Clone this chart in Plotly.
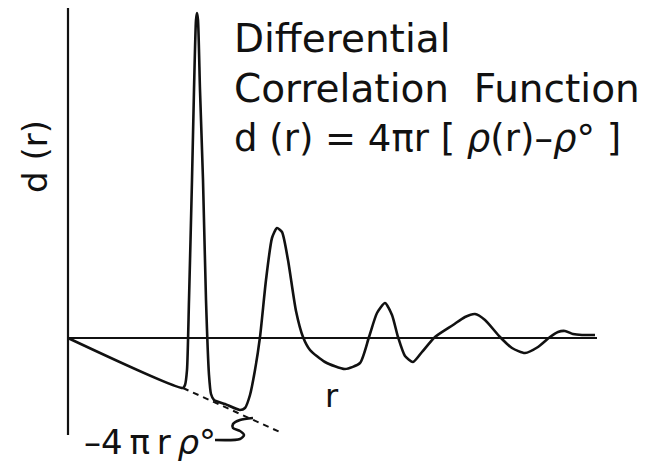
import plotly.graph_objects as go

# Curve d(r), arbitrary units
r_vals = [0.00, 2.30, 2.34, 2.38, 2.42, 2.48, 2.52, 2.56, 2.58, 2.60, 2.64, 2.70,
          2.76, 2.82, 2.86, 2.92, 3.14, 3.44, 3.54, 3.64, 3.74, 3.84, 3.96, 4.08,
          4.18, 4.28, 4.40, 4.56, 4.70, 4.84, 5.14, 5.54, 5.84, 6.02, 6.18, 6.34,
          6.48, 6.60, 6.74, 6.90, 7.08, 7.34, 7.70, 7.94, 8.14, 8.34, 8.64, 8.88,
          9.14, 9.40, 9.64, 9.80, 9.94, 10.10, 10.28, 10.54]
d_vals = [0.00, -2.00, -1.88, -1.28, 1.52, 6.32, 9.92, 12.72, 13.00, 12.72, 9.92, 6.32,
          1.52, -1.48, -2.24, -2.48, -2.64, -2.88, -2.80, -2.28, -1.28, 0.04, 2.32, 4.00,
          4.40, 4.24, 3.12, 1.08, 0.04, -0.48, -0.96, -1.24, -1.00, 0.04, 1.00, 1.40,
          0.92, 0.04, -0.72, -0.96, -0.56, 0.04, 0.52, 0.84, 0.96, 0.72, 0.04, -0.40,
          -0.60, -0.36, 0.04, 0.24, 0.28, 0.16, 0.12, 0.12]

# -4 pi r rho0 asymptote (dashed continuation)
dash_r = [2.30, 4.28]
dash_d = [-2.00, -3.80]

# axes of the sketch
xaxis_r = [0.0, 10.58]
xaxis_d = [0.0, 0.0]
yaxis_r = [0.0, 0.0]
yaxis_d = [13.4, -3.88]

# leader squiggle next to the -4πrρ° label
sq_r = [3.70, 3.44, 3.30, 3.30, 3.44, 3.52, 3.44, 2.94]
sq_d = [-3.20, -3.28, -3.44, -3.60, -3.72, -3.88, -4.04, -4.08]

fig = go.Figure()
line_col = "#111111"
fig.add_trace(go.Scatter(x=xaxis_r, y=xaxis_d, mode="lines",
                         line=dict(color=line_col, width=2)))
fig.add_trace(go.Scatter(x=yaxis_r, y=yaxis_d, mode="lines",
                         line=dict(color=line_col, width=2.2)))
fig.add_trace(go.Scatter(x=dash_r, y=dash_d, mode="lines",
                         line=dict(color=line_col, width=2, dash="6px,5px")))
fig.add_trace(go.Scatter(x=r_vals, y=d_vals, mode="lines",
                         line=dict(color=line_col, width=2.6, shape="spline", smoothing=0.6)))
fig.add_trace(go.Scatter(x=sq_r, y=sq_d, mode="lines",
                         line=dict(color=line_col, width=2.6, shape="spline", smoothing=0.8)))

font_family = "DejaVu Sans"
ann = [
    dict(x=3.28, y=12.0, text="Differential", xanchor="left", yanchor="middle", size=39),
    dict(x=3.28, y=10.0, text="Correlation  Function", xanchor="left", yanchor="middle", size=39),
    dict(x=3.28, y=8.0, text="d (r) = 4πr [ <i>ρ</i>(r)–<i>ρ</i>° ]", xanchor="left", yanchor="middle", size=37),
    dict(x=5.28, y=-2.30, text="r", xanchor="center", yanchor="middle", size=32),
    dict(x=1.64, y=-4.16, text="–4\u2009π\u2009r\u2009<i>ρ</i>°", xanchor="center", yanchor="middle", size=34),
]
for a in ann:
    fig.add_annotation(x=a["x"], y=a["y"], text=a["text"], showarrow=False,
                       xanchor=a["xanchor"], yanchor=a["yanchor"],
                       font=dict(family=font_family, size=a["size"], color=line_col))
fig.add_annotation(x=-0.66, y=7.24, text="d (r)", showarrow=False, textangle=-90,
                   xanchor="center", yanchor="middle",
                   font=dict(family=font_family, size=34, color=line_col))

# page body has an 8px margin: the figure fills the rest of the 655x462 window
fig.update_layout(
    width=647, height=454,
    margin=dict(l=0, r=0, t=0, b=0),
    paper_bgcolor="white", plot_bgcolor="white",
    showlegend=False,
    xaxis=dict(range=[-1.20, 11.74], visible=False, fixedrange=True),
    yaxis=dict(range=[-4.96, 13.20], visible=False, fixedrange=True),
)
fig.write_html("out.html")
